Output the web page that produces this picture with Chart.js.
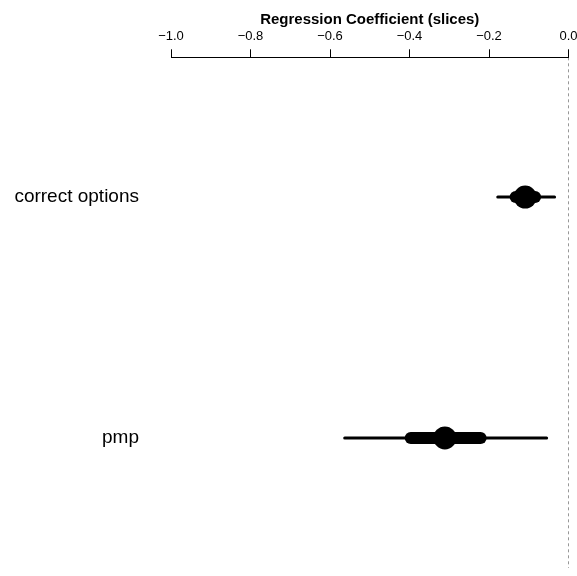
<!DOCTYPE html>
<html>
<head>
<meta charset="utf-8">
<script src="https://cdn.jsdelivr.net/npm/chart.js@4/dist/chart.umd.min.js"></script>
<style>
  html, body { margin: 0; padding: 0; background: #fff; }
  canvas { display: block; }
</style>
</head>
<body>
<canvas id="chart" width="577" height="576"></canvas>
<script>
// rows, top to bottom
const labels = ["correct options", "pmp"];
const estimates = [-0.109, -0.311];
// thick bar (inner interval)
const innerLow = [-0.133, -0.397];
const innerHigh = [-0.084, -0.221];
// thin line (outer interval)
const outerLow = [-0.178, -0.563];
const outerHigh = [-0.035, -0.055];
const xTicks = [-1.0, -0.8, -0.6, -0.4, -0.2, 0.0];

const datasets = [];

// reference line at zero
datasets.push({
  data: [{ x: 0, y: 0.42 }, { x: 0, y: 2.54 }],
  showLine: true,
  borderColor: "#333",
  borderWidth: 1,
  borderDash: [3, 3],
  pointRadius: 0,
});

labels.forEach((lab, i) => {
  const row = i + 1;
  datasets.push({
    data: [{ x: outerLow[i], y: row }, { x: outerHigh[i], y: row }],
    showLine: true,
    borderColor: "#000",
    borderWidth: 3,
    borderCapStyle: "round",
    pointRadius: 0,
  });
  datasets.push({
    data: [{ x: innerLow[i], y: row }, { x: innerHigh[i], y: row }],
    showLine: true,
    borderColor: "#000",
    borderWidth: 12,
    borderCapStyle: "round",
    pointRadius: 0,
  });
  datasets.push({
    data: [{ x: estimates[i], y: row }],
    showLine: false,
    pointRadius: 11.5,
    pointBackgroundColor: "#000",
    pointBorderColor: "#000",
    pointBorderWidth: 0,
  });
});

const fontFamily = "'Liberation Sans', Arial, Helvetica, sans-serif";

new Chart(document.getElementById("chart"), {
  type: "scatter",
  data: { datasets: datasets },
  options: {
    responsive: false,
    animation: false,
    layout: {
      autoPadding: false,
      padding: { top: 11.5, right: 8.5, bottom: 8, left: 0 },
    },
    plugins: {
      legend: { display: false },
      tooltip: { enabled: false },
    },
    scales: {
      x: {
        type: "linear",
        position: "top",
        min: -1,
        max: 0,
        afterBuildTicks: (scale) => {
          scale.ticks = xTicks.map((v) => ({ value: v }));
        },
        afterFit: (scale) => {
          scale.paddingLeft = 0;
          scale.paddingRight = 0;
        },
        ticks: {
          color: "#000",
          font: { family: fontFamily, size: 13 },
          padding: 4.6,
          maxRotation: 0,
          autoSkip: false,
          callback: (v) => (v < 0 ? "\u2212" + Math.abs(v).toFixed(1) : v.toFixed(1)),
        },
        grid: {
          drawOnChartArea: false,
          drawTicks: true,
          tickLength: 8,
          color: "#000",
        },
        border: { display: true, color: "#000", width: 1 },
        title: {
          display: true,
          text: "Regression Coefficient (slices)",
          color: "#000",
          font: { family: fontFamily, size: 15, weight: "bold", lineHeight: 0.6 },
          padding: { top: 4, bottom: 0 },
        },
      },
      y: {
        type: "linear",
        reverse: true,
        min: 0.42,
        max: 2.54,
        afterBuildTicks: (scale) => {
          scale.ticks = labels.map((l, i) => ({ value: i + 1 }));
        },
        afterFit: (scale) => {
          scale.width = 171;
          scale.paddingTop = 0;
          scale.paddingBottom = 0;
        },
        ticks: {
          color: "#000",
          font: { family: fontFamily, size: 19 },
          padding: 32,
          autoSkip: false,
          callback: (v) => labels[Math.round(v) - 1] || "",
        },
        grid: { display: false, drawTicks: false },
        border: { display: false },
      },
    },
  },
});
</script>
</body>
</html>
